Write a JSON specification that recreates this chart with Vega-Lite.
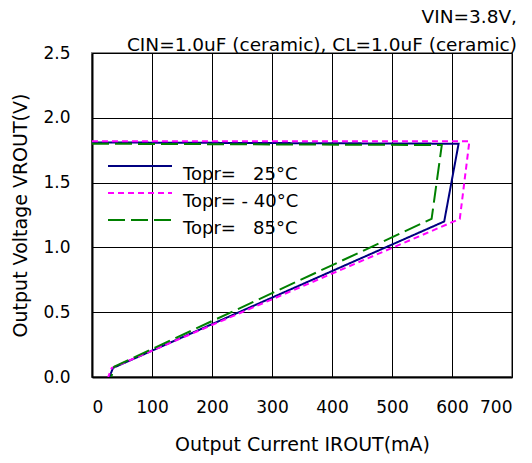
{
  "$schema": "https://vega.github.io/schema/vega-lite/v6.json",
  "width": 420,
  "height": 324,
  "autosize": {"type": "none"},
  "padding": {"left": 92, "top": 53, "right": 20, "bottom": 86},
  "config": {
    "font": "DejaVu Sans",
    "view": {"stroke": "#888888", "strokeWidth": 2},
    "background": "white"
  },
  "title": {
    "text": ["VIN=3.8V,", "CIN=1.0uF (ceramic), CL=1.0uF (ceramic)"],
    "anchor": "end",
    "fontSize": 18.5,
    "fontWeight": "normal",
    "color": "#000000",
    "lineHeight": 28,
    "offset": -10,
    "dx": 5
  },
  "data": {
    "values": [
      {"t": "Topr=\u00a0\u00a0\u00a025°C", "o": 1, "x": 0, "y": 1.81},
      {"t": "Topr=\u00a0\u00a0\u00a025°C", "o": 2, "x": 611, "y": 1.80},
      {"t": "Topr=\u00a0\u00a0\u00a025°C", "o": 3, "x": 587, "y": 1.20},
      {"t": "Topr=\u00a0\u00a0\u00a025°C", "o": 4, "x": 35, "y": 0.07},
      {"t": "Topr=\u00a0\u00a0\u00a025°C", "o": 5, "x": 29, "y": 0.0},
      {"t": "Topr=\u00a0-\u00a040°C", "o": 1, "x": 0, "y": 1.82},
      {"t": "Topr=\u00a0-\u00a040°C", "o": 2, "x": 629, "y": 1.82},
      {"t": "Topr=\u00a0-\u00a040°C", "o": 3, "x": 613, "y": 1.22},
      {"t": "Topr=\u00a0-\u00a040°C", "o": 4, "x": 33, "y": 0.07},
      {"t": "Topr=\u00a0-\u00a040°C", "o": 5, "x": 27, "y": 0.0},
      {"t": "Topr=\u00a0\u00a0\u00a085°C", "o": 1, "x": 0, "y": 1.80},
      {"t": "Topr=\u00a0\u00a0\u00a085°C", "o": 2, "x": 583, "y": 1.79},
      {"t": "Topr=\u00a0\u00a0\u00a085°C", "o": 3, "x": 566, "y": 1.22},
      {"t": "Topr=\u00a0\u00a0\u00a085°C", "o": 4, "x": 37, "y": 0.08},
      {"t": "Topr=\u00a0\u00a0\u00a085°C", "o": 5, "x": 32, "y": 0.0}
    ]
  },
  "mark": {"type": "line", "strokeWidth": 2, "clip": true},
  "encoding": {
    "x": {
      "field": "x", "type": "quantitative",
      "scale": {"domain": [0, 700], "nice": false},
      "axis": {
        "values": [0, 100, 200, 300, 400, 500, 600, 700],
        "title": "Output Current IROUT(mA)",
        "titleFontSize": 19, "titleFontWeight": "normal", "titleColor": "#000000",
        "titlePadding": 20,
        "labelFontSize": 17, "labelColor": "#000000", "labelPadding": 22,
        "ticks": false, "domainColor": "#000000", "domainWidth": 2,
        "gridColor": "#000000", "gridOpacity": 1, "gridWidth": 1
      }
    },
    "y": {
      "field": "y", "type": "quantitative",
      "scale": {"domain": [0, 2.5], "nice": false},
      "axis": {
        "values": [0, 0.5, 1.0, 1.5, 2.0, 2.5],
        "format": ".1f",
        "title": "Output Voltage VROUT(V)",
        "titleFontSize": 19, "titleFontWeight": "normal", "titleColor": "#000000",
        "titlePadding": 12,
        "labelFontSize": 17, "labelColor": "#000000", "labelPadding": 22,
        "ticks": false, "domainColor": "#000000", "domainWidth": 2,
        "gridColor": "#000000", "gridOpacity": 1, "gridWidth": 1
      }
    },
    "order": {"field": "o", "type": "quantitative"},
    "color": {
      "field": "t", "type": "nominal",
      "scale": {
        "domain": ["Topr=\u00a0\u00a0\u00a025°C", "Topr=\u00a0-\u00a040°C", "Topr=\u00a0\u00a0\u00a085°C"],
        "range": ["#000080", "#ff00ff", "#008000"]
      },
      "legend": {
        "title": null,
        "orient": "none",
        "legendX": 39,
        "legendY": 104,
        "symbolType": "M-4,0H4",
        "symbolSize": 256,
        "symbolStrokeWidth": 2,
        "labelFontSize": 18,
        "labelColor": "#000000",
        "labelBaseline": "top",
        "labelOffset": 34,
        "rowPadding": 0,
        "labelLimit": 300
      }
    },
    "strokeDash": {
      "field": "t", "type": "nominal",
      "scale": {
        "domain": ["Topr=\u00a0\u00a0\u00a025°C", "Topr=\u00a0-\u00a040°C", "Topr=\u00a0\u00a0\u00a085°C"],
        "range": [[1, 0], [6, 4], [17, 6]]
      },
      "legend": {
        "title": null,
        "orient": "none",
        "legendX": 39,
        "legendY": 104,
        "symbolType": "M-4,0H4",
        "symbolSize": 256,
        "symbolStrokeWidth": 2,
        "labelFontSize": 18,
        "labelColor": "#000000",
        "labelBaseline": "top",
        "labelOffset": 34,
        "rowPadding": 0,
        "labelLimit": 300
      }
    }
  }
}
